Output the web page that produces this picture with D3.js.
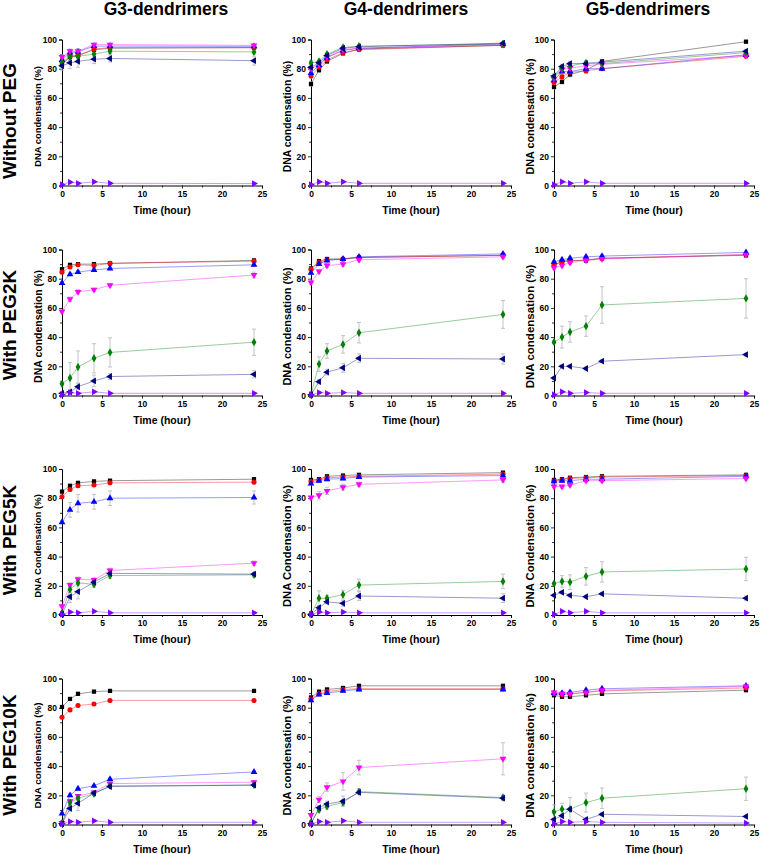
<!DOCTYPE html>
<html><head><meta charset="utf-8">
<script src="https://cdn.jsdelivr.net/npm/d3@7"></script>
<style>body{margin:0;background:#fff;} svg{display:block;font-family:Arial,"Liberation Sans",sans-serif;}</style>
</head><body><svg id="c" width="760" height="854"></svg>
<script>
// ---------- data ----------
const times = [0, 1, 2, 4, 6, 24];
const seriesColors = ["#000000", "#ff0000", "#0000ff", "#ff00ff", "#008000", "#000080", "#8000ff"];
const columnTitles = ["G3-dendrimers", "G4-dendrimers", "G5-dendrimers"];
const rowTitles = ["Without PEG", "With PEG2K", "With PEG5K", "With PEG10K"];
const yTicks = [0, 20, 40, 60, 80, 100];
const xTicks = [0, 5, 10, 15, 20, 25];
const yTitles = ["DNA condensation (%)", "DNA condensation (%)", "DNA Condensation (%)", "DNA condensation (%)"];
const xTitle = "Time (hour)";

// series order: black square, red circle, blue up-tri, magenta down-tri, green diamond, navy left-tri, violet right-tri
const g3NoPeg = [
  [83, 88, 89, 93, 94, 94.5],
  [85, 89, 89, 93.5, 94.5, 94.3],
  [86, 91, 91.5, 95.5, 95.5, 95.3],
  [88, 92, 92, 96.5, 96.5, 96],
  [84, 88, 88.5, 90, 92, 91.5],
  [82, 84, 85, 86.5, 87, 85.5],
  [0.5, 2.3, 1.5, 2.5, 1.5, 1.3]];
const g3NoPegErr = [
  [2, 2, 2, 1.5, 1, 1], [2, 2, 2, 1.5, 1, 1], [2, 2, 2, 1, 1, 1], [1.5, 1.5, 1.5, 1, 1, 1],
  [2, 2.5, 2, 2, 1.5, 1.5], [3, 4, 4, 3, 2.5, 3], [0.3, 0.5, 0.5, 0.5, 0.3, 0.3]];

const g4NoPeg = [
  [69.5, 79, 85, 90.5, 93.5, 96],
  [75, 81, 86, 91, 93, 96],
  [77, 82.5, 87.5, 92.5, 94, 97],
  [80, 83, 88, 93, 94, 96.5],
  [84, 85, 90, 94.5, 95.5, 97],
  [81, 84, 89, 94, 95, 97.5],
  [0.5, 2.5, 1.5, 2.5, 1.5, 1.5]];
const g4NoPegErr = [
  [1.5, 1.5, 1.5, 1, 1, 1], [1.5, 1.5, 1.5, 1, 1, 1], [1.5, 1.5, 1.5, 1, 1, 1], [1.5, 1.5, 1.5, 1, 1, 1],
  [1.5, 1.5, 1, 1, 1, 1], [1.5, 1.5, 1, 1, 1, 1], [0.3, 0.5, 0.5, 0.5, 0.3, 0.3]];

const g5NoPeg = [
  [67.5, 71, 76, 79, 85, 98.5],
  [70.5, 74.5, 77.5, 78.5, 80, 88.5],
  [72, 78, 78, 80, 80, 89.5],
  [73, 79.5, 80.5, 82, 83, 89],
  [74, 80.5, 82, 84, 83.5, 91],
  [75, 81.5, 83.5, 83.5, 84.5, 92],
  [0.5, 2.5, 1.5, 2.5, 1.5, 1.5]];
const g5NoPegErr = [
  [1.5, 1.5, 1.5, 1.5, 1, 1], [1.5, 1.5, 1.5, 1.5, 1, 1], [1.5, 1.5, 1.5, 1.5, 1, 1], [1.5, 1.5, 1.5, 1.5, 1, 1],
  [1.5, 1.5, 1.5, 1.5, 1, 1], [1.5, 1.5, 1.5, 1.5, 1, 1], [0.3, 0.5, 0.5, 0.5, 0.3, 0.3]];

const g3Peg2k = [
  [86.5, 89.5, 90, 90, 90.5, 92.5],
  [84.5, 88, 89.5, 89, 90.5, 92],
  [77, 83, 84.5, 86, 87, 89.5],
  [57.5, 66, 71, 72.5, 75.5, 82.5],
  [8, 12, 19.5, 25.5, 29.5, 36.5],
  [1.5, 2.5, 6, 10, 13, 14.5],
  [0.5, 2, 1.5, 2.5, 1.5, 1.5]];
const g3Peg2kErr = [
  [1, 1, 1, 1, 1, 1], [1, 1, 1, 1, 1, 1], [1, 1, 1, 1, 1, 1], [1, 1.5, 1.5, 1, 1, 2],
  [1.5, 10.5, 11, 10, 10, 9], [0.5, 1, 2, 4, 2, 2.5], [0.3, 0.5, 0.5, 0.5, 0.3, 0.3]];

const g4Peg2k = [
  [87, 92, 93.5, 93.5, 94.5, 96],
  [86.5, 91, 93, 93.5, 94.5, 96],
  [84, 90, 92.5, 93.5, 95, 97],
  [77.5, 85, 89, 90, 93, 95],
  [0.5, 21.5, 30.5, 35, 43, 55.5],
  [0.5, 9.5, 16, 19, 25.5, 25],
  [0.5, 2, 1.5, 2, 1.5, 1.5]];
const g4Peg2kErr = [
  [1, 1, 1, 1, 1, 1], [1, 1, 1, 1, 1, 1], [1, 1, 1, 1, 1, 1], [1.5, 1.5, 1.5, 1.5, 1, 1],
  [0.3, 5, 5, 6, 7, 9.5], [0.3, 1.5, 2, 3, 3, 3.5], [0.3, 0.5, 0.5, 0.5, 0.3, 0.3]];

const g5Peg2k = [
  [89, 92, 92.5, 92.5, 94, 96],
  [89.5, 91.5, 92, 93, 94, 96.5],
  [91.5, 93, 94, 95, 95.5, 98],
  [87.5, 89, 91, 92.5, 93.5, 96.5],
  [36.5, 40, 43.5, 47.5, 62, 66.5],
  [12, 20, 20, 18.5, 23.5, 28],
  [0.5, 2.5, 1.5, 2, 1.5, 1.5]];
const g5Peg2kErr = [
  [1, 1, 1, 1, 1, 1], [1, 1, 1, 1, 1, 1], [1, 1, 1, 1, 1, 1], [1, 1, 1, 1, 1, 1],
  [1, 7.5, 7, 7, 12.5, 13.5], [1, 1, 1, 1, 1, 1], [0.3, 0.5, 0.5, 0.5, 0.3, 0.3]];

const g3Peg5k = [
  [84.5, 88.5, 90.5, 91.5, 92, 93],
  [81, 86, 88.5, 89, 90.5, 91],
  [63.5, 72, 76.5, 77.5, 80, 80.5],
  [6, 20.5, 24.5, 24, 30.5, 35.5],
  [1.5, 17.5, 22, 21, 27, 27.5],
  [0.5, 12.5, 16, 22.5, 28.5, 28],
  [0.5, 2, 1.5, 2.5, 1.5, 1.5]];
const g3Peg5kErr = [
  [1, 1, 1, 1, 1, 1], [1, 1, 1, 1, 1, 1], [1, 5, 6, 5, 5, 4.5], [1, 1.5, 1.5, 1.5, 1.5, 1.5],
  [0.5, 2, 2, 2, 2, 1.5], [0.5, 4, 5, 2, 1.5, 1], [0.3, 0.5, 0.5, 0.5, 0.3, 0.3]];

const g4Peg5k = [
  [92.5, 93, 95, 95.5, 96, 97.5],
  [91.5, 92.5, 94, 94.5, 95, 96.5],
  [90, 92, 93, 93.5, 94.5, 95.5],
  [80.5, 82, 85, 87.5, 89.5, 92.5],
  [0.5, 11.5, 11.5, 14, 20.5, 23],
  [0.5, 5, 9, 8, 13, 11.5],
  [0.5, 2, 1.5, 2, 1.5, 1.5]];
const g4Peg5kErr = [
  [1, 1, 1, 1, 1, 1], [1, 1, 1, 1, 1, 1], [1, 1, 1, 1, 1, 1], [1, 2.5, 2.5, 2, 1.5, 1.5],
  [0.3, 5, 2, 3, 4, 5], [0.3, 1.5, 1.5, 2, 3, 3], [0.3, 0.5, 0.5, 0.5, 0.3, 0.3]];

const g5Peg5k = [
  [92.5, 93, 94, 94.5, 95, 96],
  [92, 92.5, 93.5, 94, 94.5, 95.5],
  [91.5, 92, 92, 93, 93, 95],
  [88, 88, 89, 92, 92, 93.5],
  [21.5, 23, 22.5, 26.5, 29.5, 31.5],
  [13.5, 15.5, 13.5, 12.5, 14.5, 11.5],
  [0.5, 2.5, 1.5, 2.5, 1.5, 1.5]];
const g5Peg5kErr = [
  [1, 1, 1, 1, 1, 1], [1, 1, 1, 1, 1, 1], [1, 1, 1, 1, 1, 1], [1, 1, 1, 1, 1, 1],
  [1, 4, 5, 6, 7, 8], [1, 1, 1, 1, 1, 1.5], [0.3, 0.5, 0.5, 0.5, 0.3, 0.3]];

const g3Peg10k = [
  [80.5, 86, 89.5, 91, 91.5, 91.5],
  [73.5, 78.5, 81.5, 82.5, 85, 85],
  [7.5, 20, 24.5, 26.5, 31, 36],
  [1, 16, 19.5, 22, 28, 29],
  [1, 15, 18, 21, 26.5, 27],
  [0.5, 11, 14.5, 21.5, 26, 27],
  [0.5, 2, 1.5, 2.5, 1.5, 1.5]];
const g3Peg10kErr = [
  [1, 1, 1, 1, 1, 1], [1, 1, 1, 1, 1, 1], [1, 1, 1, 1, 1, 1], [0.5, 1, 1, 1, 1, 1],
  [0.5, 1.5, 1.5, 1, 1, 1], [0.3, 2, 5, 1.5, 1, 1], [0.3, 0.5, 0.5, 0.5, 0.3, 0.3]];

const g4Peg10k = [
  [87, 91, 92.5, 93.5, 95, 95],
  [86, 89.5, 91, 92.5, 93, 93],
  [85, 89, 90, 91.5, 92.5, 92.5],
  [6.5, 17, 25.5, 29.5, 39, 45],
  [1.5, 10, 12.5, 15, 22.5, 18.5],
  [0.5, 11.5, 14, 16, 22, 18],
  [0.5, 2, 1.5, 2.5, 1.5, 1.5]];
const g4Peg10kErr = [
  [1, 1, 1, 1, 1, 1], [1, 1, 1, 1, 1, 1], [1, 1, 1, 1, 1, 1], [1, 2, 3, 6, 5, 11],
  [0.5, 1.5, 2, 2, 2, 1.5], [0.3, 1.5, 2, 3.5, 1.5, 1.5], [0.3, 0.5, 0.5, 0.5, 0.3, 0.3]];

const g5Peg10k = [
  [88.5, 87.5, 87.5, 88.5, 89.5, 92],
  [89.5, 89, 89.5, 90.5, 91.5, 93.5],
  [90, 90, 90.5, 92, 93, 95],
  [90.5, 89.5, 89.5, 90.5, 92, 94.5],
  [8.5, 10.5, 10.5, 15, 18, 24.5],
  [3.5, 6, 10.5, 3.5, 7, 5.5],
  [0.5, 2, 1.5, 2, 1.5, 1]];
const g5Peg10kErr = [
  [1, 1, 1, 1, 1, 1], [1, 1, 1, 1, 1, 1], [1, 1, 1, 1, 1, 1], [1, 1, 1, 1, 1, 1],
  [5, 4, 8, 6.5, 7, 8], [1, 1, 1, 1, 1, 1], [0.3, 0.5, 0.5, 0.5, 0.3, 0.3]];

// ---------- layout ----------
const panelGrid = [
  [[g3NoPeg, g3NoPegErr], [g4NoPeg, g4NoPegErr], [g5NoPeg, g5NoPegErr]],
  [[g3Peg2k, g3Peg2kErr], [g4Peg2k, g4Peg2kErr], [g5Peg2k, g5Peg2kErr]],
  [[g3Peg5k, g3Peg5kErr], [g4Peg5k, g4Peg5kErr], [g5Peg5k, g5Peg5kErr]],
  [[g3Peg10k, g3Peg10kErr], [g4Peg10k, g4Peg10kErr], [g5Peg10k, g5Peg10kErr]]
];
const colX0 = [62, 311, 554];
const rowTop = [39.5, 249.5, 469, 678.5];
const plotW = 200, plotH = 146;
const titleCx = [166, 406, 648];
const rowLabelCy = [121, 325, 540, 755];
const yTitleSize = [[9.4, 10.4, 10.8], [10.5, 11, 11.5], [9.5, 11.2, 11.3], [9.9, 11.2, 11.6]];

const symbolDefs = [
  {type: d3.symbolSquare, rot: 0, size: 18},
  {type: d3.symbolCircle, rot: 0, size: 20},
  {type: d3.symbolTriangle, rot: 0, size: 20},
  {type: d3.symbolTriangle, rot: 180, size: 20},
  {type: d3.symbolDiamond, rot: 0, size: 20},
  {type: d3.symbolTriangle, rot: -90, size: 20},
  {type: d3.symbolTriangle, rot: 90, size: 20}
];

const svg = d3.select("#c");

// column titles
columnTitles.forEach((t, i) => {
  svg.append("text").attr("x", titleCx[i]).attr("y", 15)
    .attr("text-anchor", "middle").attr("font-size", 17.5).attr("font-weight", "bold").text(t);
});
// row titles
rowTitles.forEach((t, i) => {
  svg.append("text").attr("transform", `translate(16,${rowLabelCy[i]}) rotate(-90)`)
    .attr("text-anchor", "middle").attr("font-size", 19).attr("font-weight", "bold").text(t);
});

panelGrid.forEach((row, r) => {
  row.forEach((cell, c) => {
    const [vals, errs] = cell;
    const x = d3.scaleLinear().domain([0, 25]).range([0, plotW]);
    const y = d3.scaleLinear().domain([0, 100]).range([plotH, 0]);
    const g = svg.append("g").attr("transform", `translate(${colX0[c]},${rowTop[r]})`);

    // axes
    const yAxis = d3.axisLeft(y).tickValues(yTicks).tickSize(3).tickPadding(2).tickFormat(d3.format("d"));
    const xAxis = d3.axisBottom(x).tickValues(xTicks).tickSize(3).tickPadding(2).tickFormat(d3.format("d"));
    const gy = g.append("g").call(yAxis);
    const gx = g.append("g").attr("transform", `translate(0,${plotH})`).call(xAxis);
    // minor ticks
    g.append("g").call(d3.axisLeft(y).tickValues([10, 30, 50, 70, 90]).tickSize(2).tickFormat(""))
      .select(".domain").remove();
    g.append("g").attr("transform", `translate(0,${plotH})`)
      .call(d3.axisBottom(x).tickValues([2.5, 7.5, 12.5, 17.5, 22.5]).tickSize(2).tickFormat(""))
      .select(".domain").remove();
    [gy, gx].forEach(a => {
      a.selectAll("text").attr("font-size", 8.5).attr("font-weight", "bold").attr("fill", "#000")
        .attr("font-family", "Arial, 'Liberation Sans', sans-serif");
      a.select(".domain").attr("stroke", "#000").attr("stroke-width", 1);
      a.selectAll(".tick line").attr("stroke", "#000");
    });
    g.selectAll(".tick line").attr("stroke-width", 0.8);

    // axis titles
    g.append("text").attr("transform", `translate(-24,${plotH / 2 + 4}) rotate(-90)`)
      .attr("text-anchor", "middle").attr("dy", "0.35em").attr("font-size", yTitleSize[r][c])
      .attr("font-weight", "bold").text(yTitles[r]);
    g.append("text").attr("x", plotW / 2).attr("y", plotH + 28)
      .attr("text-anchor", "middle").attr("font-size", 10.5).attr("font-weight", "bold").text(xTitle);

    // error bars
    vals.forEach((s, si) => {
      const eg = g.append("g").attr("stroke", "#b5b5b5").attr("stroke-width", 0.8);
      s.forEach((v, ti) => {
        const e = errs[si][ti];
        const px = x(times[ti]);
        eg.append("line").attr("x1", px).attr("x2", px).attr("y1", y(v - e)).attr("y2", y(v + e));
        eg.append("line").attr("x1", px - 2).attr("x2", px + 2).attr("y1", y(v - e)).attr("y2", y(v - e));
        eg.append("line").attr("x1", px - 2).attr("x2", px + 2).attr("y1", y(v + e)).attr("y2", y(v + e));
      });
    });
    // lines + markers
    vals.forEach((s, si) => {
      const line = d3.line().x((d, i) => x(times[i])).y(d => y(d));
      g.append("path").datum(s).attr("d", line).attr("fill", "none")
        .attr("stroke", seriesColors[si]).attr("stroke-opacity", 0.4).attr("stroke-width", 1);
    });
    vals.forEach((s, si) => {
      const sd = symbolDefs[si];
      const sym = d3.symbol().type(sd.type).size(sd.size);
      g.append("g").selectAll("path").data(s).join("path")
        .attr("d", sym)
        .attr("transform", (d, i) => `translate(${x(times[i])},${y(d)}) rotate(${sd.rot})`)
        .attr("fill", seriesColors[si]);
    });
  });
});
</script></body></html>
